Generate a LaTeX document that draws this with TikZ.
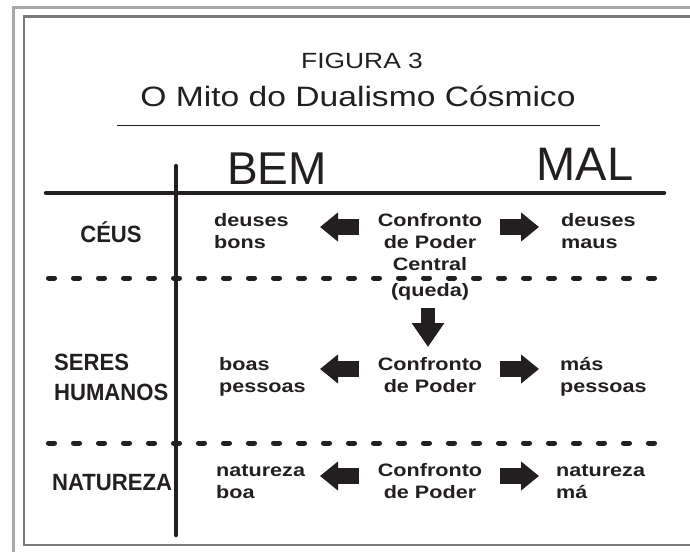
\documentclass[tikz,border=0pt]{standalone}
\usepackage{fontspec}
\setmainfont{Liberation Sans}
\newfontfamily\widefont{Liberation Sans}[FakeStretch=1.2]
\newfontfamily\widebold{Liberation Sans Bold}[FakeStretch=1.2]
\newfontfamily\labelbold{Liberation Sans Bold}[FakeStretch=0.94]
\usetikzlibrary{arrows.meta}
\definecolor{ink}{HTML}{231F20}
\definecolor{frameout}{HTML}{A8A8A8}
\definecolor{framein}{HTML}{7A7A7A}
\begin{document}
\begin{tikzpicture}[x=1pt,y=-1pt,
  cell/.style={font=\widebold\fontsize{18}{22}\selectfont, text=ink, inner sep=0pt, align=left},
  ccell/.style={cell, align=center},
  rowlabel/.style={font=\labelbold\fontsize{23.5}{30}\selectfont, text=ink, inner sep=0pt, align=left},
  headtext/.style={font=\fontsize{46}{50}\selectfont, text=ink, inner sep=0pt},
  titletext/.style={font=\widefont\fontsize{#1}{#1}\selectfont, text=ink, inner sep=0pt},
  blk/.style={line width=16pt, draw=ink, -{Triangle[length=18pt,width=28pt]}},
  blkdown/.style={line width=14pt, draw=ink, -{Triangle[length=24pt,width=31pt]}},
  dotrule/.style={line width=5pt, draw=ink, line cap=round, dash pattern=on 6pt off 19pt},
  solidrule/.style={line width=4.5pt, draw=ink, line cap=round}]
\path[use as bounding box, clip] (0,0) rectangle (690,551);
\fill[white] (0,0) rectangle (690,551);
% frames
\draw[frameout, line width=2.5pt] (13.5,7.5) rectangle (720,580);
\draw[framein, line width=2.5pt] (24,16.5) rectangle (720,545);
% titles
\node[titletext=22, anchor=base] (fig) at (362,68) {FIGURA 3};
\node[titletext=28, anchor=base] (title) at (358,106) {O Mito do Dualismo Cósmico};
\coordinate (rl) at (117,125);
\coordinate (rr) at (600,125);
\draw[ink, line width=1pt] (rl) -- (rr);
% headings
\node[headtext, anchor=base] (bem) at (277,184) {BEM};
\node[headtext, font=\fontsize{47}{50}\selectfont, anchor=base] (mal) at (585,180) {MAL};
% grid
\coordinate (hl) at (46,193);
\coordinate (hr) at (664,193);
\coordinate (vt) at (176,166);
\coordinate (vb) at (176,535);
\draw[solidrule] (hl) -- (hr);
\draw[solidrule] (vt) -- (vb);
\coordinate (d1l) at (48.5,278);
\coordinate (d1r) at (662,278);
\coordinate (d2l) at (48.5,443);
\coordinate (d2r) at (662,443);
\draw[dotrule] (d1l) -- (d1r);
\draw[dotrule] (d2l) -- (d2r);
% row labels (multi-line nodes: base = last line)
\node[rowlabel, anchor=base] (ceus) at (111,242) {CÉUS};
\node[rowlabel, anchor=base west] (seres) at (54,400) {SERES\\HUMANOS};
\node[rowlabel, anchor=base west] (nat) at (52,490) {NATUREZA};
% row 1
\node[cell, anchor=base west] (gb) at (214,248) {deuses\\bons};
\node[ccell, anchor=base] (c1) at (430,270) {Confronto\\de Poder\\Central};
\node[cell, anchor=base west] (gm) at (561,248) {deuses\\maus};
\node[ccell, anchor=base] (queda) at (430,296) {(queda)};
% row 2
\node[cell, anchor=base west] (pb) at (219,392) {boas\\pessoas};
\node[ccell, anchor=base] (c2) at (430,392) {Confronto\\de Poder};
\node[cell, anchor=base west] (pm) at (560,392) {más\\pessoas};
% row 3
\node[cell, anchor=base west] (nb) at (216,498) {natureza\\boa};
\node[ccell, anchor=base] (c3) at (430,498) {Confronto\\de Poder};
\node[cell, anchor=base west] (nm) at (556,498) {natureza\\má};
% block arrows
\coordinate (a1s) at (359,227); \coordinate (a1e) at (320,227);
\coordinate (b1s) at (500,227); \coordinate (b1e) at (539,227);
\coordinate (a2s) at (359,369); \coordinate (a2e) at (320,369);
\coordinate (b2s) at (500,369); \coordinate (b2e) at (539,369);
\coordinate (a3s) at (359,476); \coordinate (a3e) at (320,476);
\coordinate (b3s) at (500,476); \coordinate (b3e) at (539,476);
\coordinate (ds) at (428,308); \coordinate (de) at (428,347);
\draw[blk] (a1s) -- (a1e);
\draw[blk] (b1s) -- (b1e);
\draw[blk] (a2s) -- (a2e);
\draw[blk] (b2s) -- (b2e);
\draw[blk] (a3s) -- (a3e);
\draw[blk] (b3s) -- (b3e);
\draw[blkdown] (ds) -- (de);
\end{tikzpicture}
\end{document}
